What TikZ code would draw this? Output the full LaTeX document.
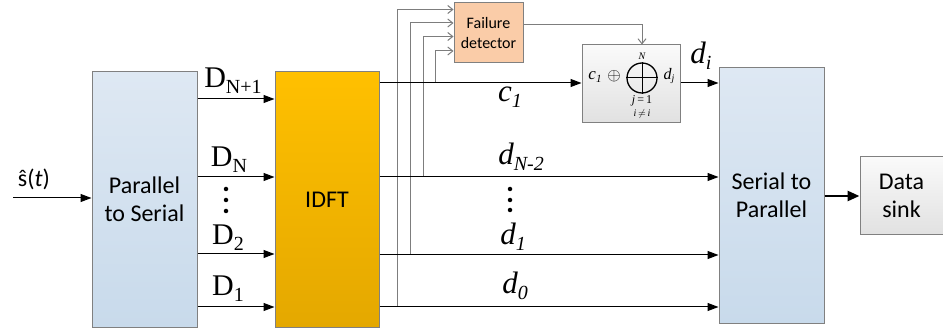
\documentclass[tikz,border=0pt]{standalone}
\usepackage{fontspec}
\setmainfont{Liberation Serif}
\newfontfamily\blk{Carlito}
\usetikzlibrary{arrows.meta,positioning}
\definecolor{bluetop}{RGB}{222,232,243}
\definecolor{bluebot}{RGB}{200,218,235}
\definecolor{oratop}{RGB}{255,192,0}
\definecolor{orabot}{RGB}{228,168,0}
\definecolor{peach}{RGB}{250,204,168}
\definecolor{greytop}{RGB}{250,250,250}
\definecolor{greybot}{RGB}{225,225,225}
\definecolor{edge}{RGB}{128,128,128}
\definecolor{tap}{RGB}{125,125,125}
\tikzset{
  blockbox/.style={draw=edge, line width=1pt, inner sep=0pt, align=center,
    font=\blk\fontsize{24}{28}\selectfont},
  bluebox/.style={blockbox, top color=bluetop, bottom color=bluebot},
  orabox/.style={blockbox, top color=oratop, bottom color=orabot},
  greybox/.style={blockbox, top color=greytop, bottom color=greybot},
  sig/.style={line width=1pt, -{Triangle[length=11pt,width=8pt]}},
  tapline/.style={draw=tap, line width=1pt, -{Straight Barb[length=5pt,width=8pt]}},
  biglbl/.style={font=\fontsize{30}{32}\selectfont},
  itlbl/.style={font=\itshape\fontsize{31}{33}\selectfont},
  dotc/.style={circle, fill=black, inner sep=0pt, minimum size=4.5pt},
}
\newcommand\dsub[1]{\raisebox{-0.45ex}{\fontsize{20}{22}\selectfont #1}}
\begin{document}
\begin{tikzpicture}[x=1pt,y=-1pt]
\useasboundingbox (0,0) rectangle (943,331);
% blocks
\node[bluebox, minimum width=105pt, minimum height=255pt] (ps) at (144.5,199.5) {Parallel\\to Serial};
\node[orabox, minimum width=104pt, minimum height=255pt] (idft) at (327,199.5) {IDFT};
\node[bluebox, minimum width=105pt, minimum height=255pt] (sp) at (771.5,195.5) {Serial to\\Parallel};
\node[greybox, minimum width=83pt, minimum height=78pt] (sink) at (901.5,196) {Data\\sink};
\node[blockbox, fill=peach, minimum width=69pt, minimum height=60pt,
      font=\blk\fontsize{16}{20}\selectfont] (fd) at (488.5,33) {Failure\\detector};
\node[greybox, minimum width=98pt, minimum height=78pt] (comb) at (631,84) {};
% combiner content
\node[circle, draw, line width=1.3pt, minimum size=30pt, inner sep=0pt] (bigop) at (642,78) {};
\draw[line width=1pt] (bigop.north) -- (bigop.south) (bigop.west) -- (bigop.east);
\node[font=\itshape\fontsize{17}{18}\selectfont] (cone) at (595,77) {c\raisebox{-0.4ex}{\fontsize{11}{11}\selectfont 1}};
\node[font=\fontsize{16}{16}\selectfont, inner sep=0pt] (smallop) at (614,76) {$\oplus$};
\node[font=\itshape\fontsize{16}{18}\selectfont] (dj) at (669,76) {d\raisebox{-0.4ex}{\fontsize{10}{10}\selectfont j}};
\node[font=\itshape\fontsize{10}{10}\selectfont, inner sep=0pt] (nn) at (642,56) {N};
\node[font=\fontsize{12}{12}\selectfont, inner sep=0pt] (jj) at (642,101) {\textit{j}\,=\,1};
\node[font=\fontsize{10}{10}\selectfont, inner sep=0pt] (ii) at (642,114) {\textit{i}\,$\neq$\,\textit{i}};
% coordinates
\coordinate (in) at (13,198);
\coordinate (psa) at (ps.east |- 0,99);
\coordinate (psb) at (ps.east |- 0,177);
\coordinate (psc) at (ps.east |- 0,254);
\coordinate (psd) at (ps.east |- 0,307);
\coordinate (ida) at (idft.west |- 0,99);
\coordinate (idb) at (idft.west |- 0,177);
\coordinate (idc) at (idft.west |- 0,254);
\coordinate (idd) at (idft.west |- 0,307);
\coordinate (oa) at (idft.east |- 0,83);
\coordinate (ob) at (idft.east |- 0,177);
\coordinate (oc) at (idft.east |- 0,255);
\coordinate (od) at (idft.east |- 0,307);
\coordinate (ca) at (comb.west |- 0,83);
\coordinate (ce) at (comb.east |- 0,83);
\coordinate (spa) at (sp.west |- 0,83);
\coordinate (spb) at (sp.west |- 0,177);
\coordinate (spc) at (sp.west |- 0,255);
\coordinate (spd) at (sp.west |- 0,307);
% taps
\draw[tapline] (397,307) |- (fd.west |- 0,9.5);
\draw[tapline] (410,255) |- (fd.west |- 0,23);
\draw[tapline] (423,177) |- (fd.west |- 0,36.5);
\draw[tapline] (435,83) |- (fd.west |- 0,51);
\draw[tapline] (fd.east |- 0,25) -| (comb.north -| bigop);
% main signals
\draw[sig] (in) -- (ps.west |- in);
\draw[sig] (psa) -- (ida);
\draw[sig] (psb) -- (idb);
\draw[sig] (psc) -- (idc);
\draw[sig] (psd) -- (idd);
\draw[sig] (oa) -- (ca);
\draw[sig] (ce) -- (spa);
\draw[sig] (ob) -- (spb);
\draw[sig] (oc) -- (spc);
\draw[sig] (od) -- (spd);
\draw[line width=2.6pt, -{Triangle[length=12pt,width=10pt]}] (sp.east |- sink) -- (sink.west);
% labels
\node[font=\blk\fontsize{24}{28}\selectfont] (sl) at (34,179) {ŝ(\textit{t})};
\node[biglbl] (la) at (233,81) {D\dsub{N+1}};
\node[biglbl] (lb) at (229,160) {D\dsub{N}};
\node[biglbl] (lc) at (228,238) {D\dsub{2}};
\node[biglbl] (ld) at (228,289) {D\dsub{1}};
\node[dotc] (p1) at (226,189) {};
\node[dotc] (p2) at (226,200) {};
\node[dotc] (p3) at (226,211) {};
\node[itlbl] (lca) at (510,97) {c\dsub{1}};
\node[itlbl] (lcb) at (521,157) {d\dsub{\itshape N-2}};
\node[itlbl] (lcc) at (513,237) {d\dsub{1}};
\node[itlbl] (lcd) at (515,286) {d\dsub{0}};
\node[itlbl] (ldi) at (701,56) {d\dsub{\itshape i}};
\node[dotc] (q1) at (510,189) {};
\node[dotc] (q2) at (510,200) {};
\node[dotc] (q3) at (510,210) {};
\end{tikzpicture}
\end{document}
